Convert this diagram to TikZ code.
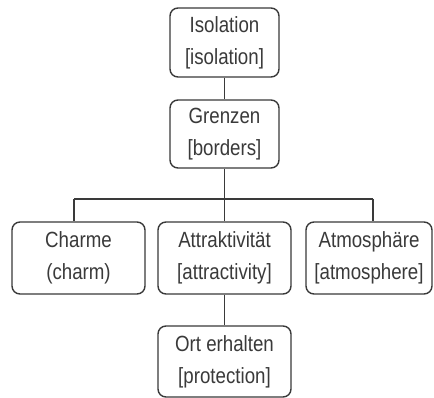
\documentclass[tikz,border=0pt]{standalone}
\usepackage{fontspec}
\setmainfont{Liberation Sans}[FakeStretch=0.85]
\definecolor{ink}{HTML}{3A3A3A}
\begin{document}
\begin{tikzpicture}[x=1pt,y=-1pt,
  box/.style={draw=ink,line width=1.4pt,rounded corners=8pt,text=ink,
    align=center,inner sep=0pt,font=\fontsize{22}{32}\selectfont},
  wire/.style={draw=ink,line width=1.6pt}]
\useasboundingbox[fill=white] (0,0) rectangle (434,398);
\node[box,minimum width=109pt,minimum height=69pt] (iso) at (224.5,42.5) {Isolation\\{}[isolation]};
\node[box,minimum width=109pt,minimum height=68pt] (gren) at (224.5,134) {Grenzen\\{}[borders]};
\node[box,minimum width=133pt,minimum height=72pt] (charm) at (78.5,258) {Charme\\(charm)};
\node[box,minimum width=133pt,minimum height=72pt] (attr) at (224.5,258) {Attraktivität\\{}[attractivity]};
\node[box,minimum width=126pt,minimum height=72pt] (atmo) at (369,258) {Atmosphäre\\{}[atmosphere]};
\node[box,minimum width=133pt,minimum height=71pt] (ort) at (224.5,361.5) {Ort erhalten\\{}[protection]};
\coordinate (busL) at (74,199);
\coordinate (busR) at (373,199);
\draw[wire] (iso) -- (gren);
\draw[wire] (gren) -- (attr);
\draw[wire] (busL) -- (busR);
\draw[wire] (busL) -- (busL |- charm.north);
\draw[wire] (busR) -- (busR |- atmo.north);
\draw[wire] (attr) -- (ort);
\end{tikzpicture}
\end{document}
